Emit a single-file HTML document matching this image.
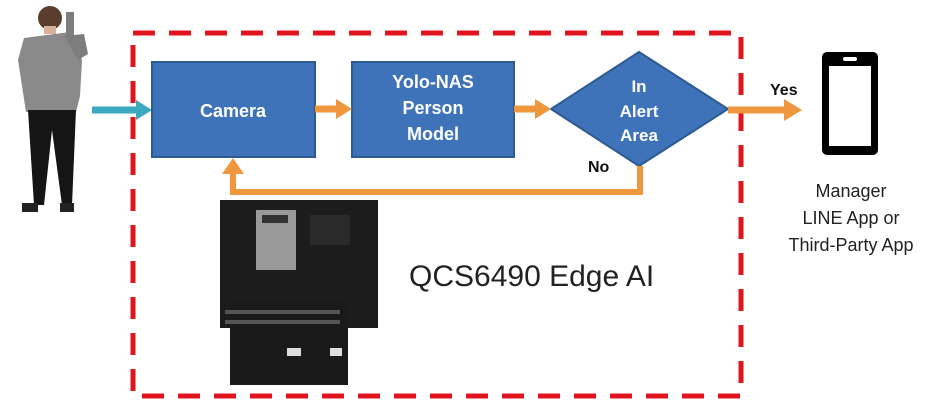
<!DOCTYPE html>
<html><head><style>
body{margin:0;width:932px;height:405px;background:#fff;overflow:hidden;font-family:"Liberation Sans",Arial,sans-serif}
</style></head><body>
<svg width="932" height="405" xmlns="http://www.w3.org/2000/svg">
<rect x="133" y="33" width="608" height="363" fill="none" stroke="#e0141c" stroke-width="5" stroke-dasharray="22,14"/>
<!-- person -->
<g>
<circle cx="50" cy="18" r="12" fill="#5a3e2b"/>
<rect x="44" y="26" width="12" height="8" fill="#d8b09a"/>
<path d="M24 38 L70 32 L82 60 L80 96 L76 112 L26 112 L18 60 Z" fill="#8a8a8a"/>
<path d="M64 36 L84 34 L88 54 L78 60 Z" fill="#7d7d7d"/>
<rect x="66" y="12" width="8" height="26" fill="#7d7d7d"/>
<path d="M28 110 L76 110 L72 205 L62 205 L52 130 L44 205 L34 205 Z" fill="#151515"/>
<rect x="22" y="203" width="16" height="9" fill="#222"/>
<rect x="60" y="203" width="14" height="9" fill="#222"/>
</g>
<!-- teal arrow -->
<line x1="92" y1="110" x2="138" y2="110" stroke="#3aa9bf" stroke-width="7"/>
<polygon points="136,100 152,110 136,120" fill="#3aa9bf"/>
<!-- boxes -->
<rect x="152" y="62" width="163" height="95" fill="#3e73b9" stroke="#2d5a90" stroke-width="2"/>
<text x="233" y="117" fill="#fff" font-size="18" font-weight="bold" text-anchor="middle">Camera</text>
<rect x="352" y="62" width="162" height="95" fill="#3e73b9" stroke="#2d5a90" stroke-width="2"/>
<text x="433" y="88" fill="#fff" font-size="18" font-weight="bold" text-anchor="middle">Yolo-NAS</text>
<text x="433" y="114" fill="#fff" font-size="18" font-weight="bold" text-anchor="middle">Person</text>
<text x="433" y="140" fill="#fff" font-size="18" font-weight="bold" text-anchor="middle">Model</text>
<polygon points="639,52 728,109 639,166 551,109" fill="#3e73b9" stroke="#2d5a90" stroke-width="2"/>
<text x="639" y="92" fill="#fff" font-size="17" font-weight="bold" text-anchor="middle">In</text>
<text x="639" y="117" fill="#fff" font-size="17" font-weight="bold" text-anchor="middle">Alert</text>
<text x="639" y="141" fill="#fff" font-size="17" font-weight="bold" text-anchor="middle">Area</text>
<!-- orange arrows -->
<g fill="#f0963c" stroke="#f0963c">
<line x1="315" y1="109" x2="338" y2="109" stroke-width="7"/><polygon points="336,99 352,109 336,119" stroke="none"/>
<line x1="514" y1="109" x2="537" y2="109" stroke-width="7"/><polygon points="535,99 551,109 535,119" stroke="none"/>
<line x1="728" y1="110" x2="786" y2="110" stroke-width="7"/><polygon points="784,99 802,110 784,121" stroke="none"/>
<polyline points="640,166 640,192 233,192 233,172" fill="none" stroke-width="6"/>
<polygon points="222,174 233,158 244,174" stroke="none"/>
</g>
<text x="770" y="95" font-size="16" font-weight="bold" fill="#111">Yes</text>
<text x="588" y="172" font-size="16" font-weight="bold" fill="#111">No</text>
<!-- phone -->
<rect x="822" y="52" width="56" height="103" rx="5" fill="#000"/>
<rect x="829" y="66" width="42" height="80" fill="#fff"/>
<rect x="843" y="57" width="14" height="4" rx="2" fill="#fff"/>
<text x="851" y="197" font-size="18" fill="#222" text-anchor="middle">Manager</text>
<text x="851" y="224" font-size="18" fill="#222" text-anchor="middle">LINE App or</text>
<text x="851" y="251" font-size="18" fill="#222" text-anchor="middle">Third-Party App</text>
<!-- board -->
<rect x="220" y="200" width="158" height="128" fill="#1c1c1c"/>
<rect x="230" y="300" width="118" height="85" fill="#1a1a1a"/>
<rect x="256" y="210" width="40" height="60" fill="#9a9a9a"/>
<rect x="262" y="215" width="26" height="8" fill="#333"/>
<rect x="225" y="310" width="115" height="4" fill="#555"/>
<rect x="225" y="320" width="115" height="4" fill="#555"/>
<rect x="287" y="348" width="14" height="8" fill="#ddd"/>
<rect x="330" y="348" width="12" height="8" fill="#ddd"/>
<rect x="310" y="215" width="40" height="30" fill="#2a2a2a"/>
<text x="409" y="286" font-size="30" fill="#222">QCS6490 Edge AI</text>
</svg>
</body></html>
